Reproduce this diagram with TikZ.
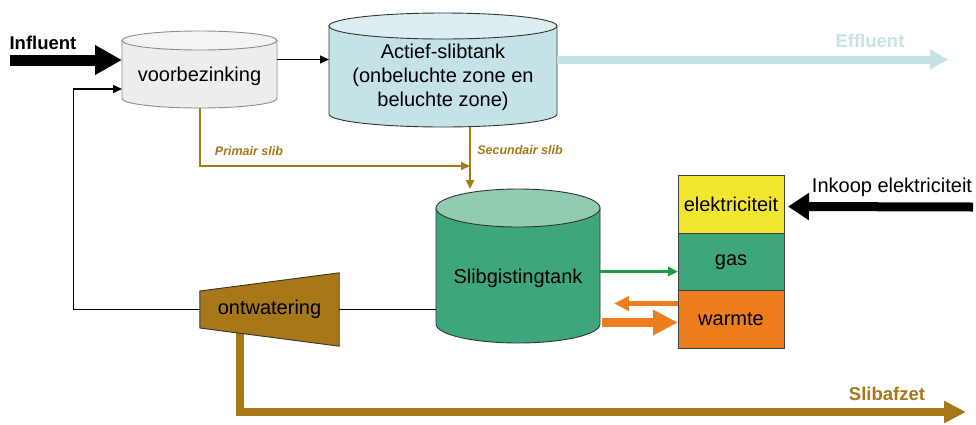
\documentclass[tikz,border=0pt]{standalone}
\usepackage{fontspec}
\setmainfont{Liberation Sans}
\usetikzlibrary{arrows.meta,positioning,calc}
\pgfdeclarelayer{background}
\pgfsetlayers{background,main}
\definecolor{voorgrijs}{HTML}{EDEDED}
\definecolor{voortop}{HTML}{F4F4F4}
\definecolor{actblauw}{HTML}{C5E3E6}
\definecolor{acttop}{HTML}{DCEEF0}
\definecolor{gistgroen}{HTML}{3DA77B}
\definecolor{gisttop}{HTML}{93CBB0}
\definecolor{slibbruin}{HTML}{A67818}
\definecolor{elekgeel}{HTML}{F3E62E}
\definecolor{warmoranje}{HTML}{EE7D1E}
\definecolor{gaspijl}{HTML}{1E9A45}

% cylinder round an (invisible) node: #1 node, #2 ry, #3 body, #4 top, #5 line
\newcommand{\drawtank}[5]{%
  \draw[draw=#5, line width=0.9pt, fill=#3] let \p1=(#1.north west), \p2=(#1.south east) in
    (\x1,\y1-#2pt) -- (\x1,\y2+#2pt) arc[start angle=180, end angle=360, x radius={(\x2-\x1)/2}, y radius=#2pt] -- (\x2,\y1-#2pt) -- cycle;
  \draw[draw=#5, line width=0.9pt, fill=#4] let \p1=(#1.north west), \p2=(#1.south east) in
    ({(\x1+\x2)/2},\y1-#2pt) ellipse[x radius={(\x2-\x1)/2}, y radius=#2pt];
}

\tikzset{
  tankbox/.style={inner sep=0pt, outer sep=0pt},
  lbl/.style={font=\fontsize{20}{24}\selectfont, align=center, inner sep=0pt},
  kop/.style={font=\fontsize{18.5}{22}\selectfont\bfseries, inner sep=0pt},
  stapel/.style={lbl, draw=black!75, line width=0.9pt, minimum width=106pt, minimum height=57.5pt, outer sep=0pt},
  dun/.style={draw=black, line width=1.3pt, -{Triangle[length=9pt,width=8pt]}},
  slib/.style={draw=slibbruin, line width=2pt, -{Triangle[length=9pt,width=8pt]}},
  slibtekst/.style={font=\fontsize{12.5}{14}\selectfont\bfseries\itshape, text=slibbruin, inner sep=0pt},
}

\begin{document}
\begin{tikzpicture}[x=1pt,y=-1pt]
\useasboundingbox (0,0) rectangle (976,424);
%tanks
\node[tankbox, minimum width=155pt, minimum height=77pt] (voor) at (199.5,69.5) {};
\node[tankbox, minimum width=228pt, minimum height=114pt] (act) at (443,70) {};
\node[tankbox, minimum width=164pt, minimum height=154pt] (gist) at (518,266) {};
\node[lbl] (voortxt) at ([yshift=-6.5pt]voor.center) {voorbezinking};
\node[lbl] (acttxt) at ([yshift=-7pt]act.center) {Actief-slibtank\\(onbeluchte zone en\\beluchte zone)};
\node[lbl] (gisttxt) at ([yshift=-12pt]gist.center) {Slibgistingtank};
\node[lbl, minimum width=139pt, minimum height=73pt] (ont) at (269.5,309.5) {ontwatering};
\begin{pgfonlayer}{background}
\drawtank{voor}{9.5}{voorgrijs}{voortop}{black!45}
\drawtank{act}{13}{actblauw}{acttop}{black!80}
\drawtank{gist}{19}{gistgroen}{gisttop}{black!80}
\coordinate (afzet) at (966,412);
\draw[draw=slibbruin, line width=8pt, -{Triangle[length=22pt,width=21pt]}] ([xshift=-29.5pt]ont.center) |- (afzet);
\filldraw[fill=slibbruin, draw=black!80, line width=0.9pt] ([yshift=18.5pt]ont.west) -- (ont.north east) -- (ont.south east) -- ([yshift=-18.5pt]ont.west) -- cycle;
\end{pgfonlayer}
%energie
\node[stapel, fill=elekgeel] (elek) at (731,204.5) {elektriciteit};
\node[stapel, fill=gistgroen, below=0pt of elek] (gas) {gas};
\node[stapel, fill=warmoranje, below=0pt of gas] (warm) {warmte};
%pijlen
\coordinate (infin) at (10,60);
\coordinate (effuit) at (948,59.5);
\coordinate (inkoop) at (973,207);
\coordinate (slibin) at (470,166);
\draw[line width=11pt, -{Triangle[length=27pt,width=28pt]}] (infin) -- ([yshift=9.5pt]voor.west);
\draw[dun] ([yshift=10pt]voor.east) -- ([yshift=10pt]voor.east -| act.west);
\draw[draw=actblauw, line width=8pt, -{Triangle[length=18pt,width=19pt]}] ([yshift=10.5pt]act.east) -- (effuit);
\draw[dun] (ont.west) -- ++(-126,0) |- ([yshift=-19.5pt]voor.west);
\draw[slib] (voor.south) |- (slibin);
\draw[slib] ([xshift=27pt]act.south) -- ([xshift=27pt]act.south |- gist.north);
\draw[line width=1.3pt] (ont.east) -- (ont.east -| gist.west);
\draw[draw=gaspijl, line width=2.5pt, -{Triangle[length=10pt,width=9pt]}] ([yshift=-9.5pt]gas.west -| gist.east) -- ([yshift=-9.5pt]gas.west);
\draw[draw=warmoranje, line width=5pt, -{Triangle[length=15pt,width=14pt]}] ([yshift=16pt]warm.west) -- ([yshift=16pt,xshift=14pt]warm.west -| gist.east);
\draw[draw=warmoranje, line width=9pt, -{Triangle[length=25pt,width=24pt]}] ([yshift=-3pt,xshift=2pt]warm.west -| gist.east) -- ([yshift=-3pt]warm.west);
\draw[line width=9pt, -{Triangle[length=21pt,width=26pt]}] (inkoop) -- ([xshift=4pt,yshift=-2pt]elek.east);
%tekst
\node[kop] (influent) at (43,43) {Influent};
\node[kop, text=actblauw] (effluent) at (870,41) {Effluent};
\node[kop, text=slibbruin] (slibafzet) at (887,394) {Slibafzet};
\node[lbl] (inkooptxt) at (892,187) {Inkoop elektriciteit};
\node[slibtekst] (primair) at (249,151) {Primair slib};
\node[slibtekst] (secundair) at (520,150) {Secundair slib};
\end{tikzpicture}
\end{document}
